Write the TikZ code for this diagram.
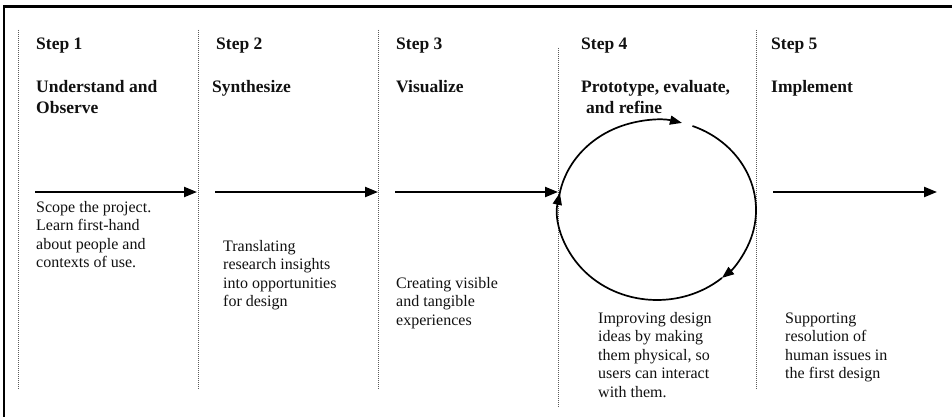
\documentclass[tikz,border=0pt]{standalone}
\usepackage{fontspec}
\setmainfont{Liberation Serif}
\usetikzlibrary{arrows.meta}
\definecolor{txt}{HTML}{111111}
\definecolor{divgray}{HTML}{5A5A5A}
\tikzset{
  steplabel/.style={anchor=base west, inner sep=0, text=txt, font=\bfseries\fontsize{17.5}{21}\selectfont},
  titletext/.style={anchor=north west, inner sep=0, align=left, text=txt, font=\bfseries\fontsize{17.5}{21}\selectfont},
  bodytext/.style={anchor=north west, inner sep=0, align=left, text=txt, font=\fontsize{16}{18.5}\selectfont},
  divider/.style={draw=divgray, line width=1pt, dash pattern=on 1pt off 1pt},
  flowarrow/.style={draw=black, line width=2.2pt, -{Triangle[length=13pt,width=10pt]}},
  cyclearrow/.style={draw=black, line width=1.7pt, -{Triangle[length=12pt,width=9pt]}}
}
\begin{document}
\begin{tikzpicture}[x=1pt,y=-1pt]
\useasboundingbox (0,0) rectangle (952,417);
\fill[white] (0,0) rectangle (952,417);
% frame
\coordinate (fbl) at (4,417);
\coordinate (ftl) at (4,6.5);
\coordinate (ftr) at (952,6.5);
\draw[line width=2.6pt] (fbl) -- (ftl) -- (ftr);
% dividers
\coordinate (d1t) at (18,30);  \coordinate (d1b) at (18,390);
\coordinate (d2t) at (198,30); \coordinate (d2b) at (198,390);
\coordinate (d3t) at (378,30); \coordinate (d3b) at (378,390);
\coordinate (d4t) at (558,48); \coordinate (d4b) at (558,407);
\coordinate (d5t) at (756,30); \coordinate (d5b) at (756,390);
\draw[divider] (d1t) -- (d1b);
\draw[divider] (d2t) -- (d2b);
\draw[divider] (d3t) -- (d3b);
\draw[divider] (d4t) -- (d4b);
\draw[divider] (d5t) -- (d5b);
% step labels
\node[steplabel] (s1) at (36,50) {Step 1};
\node[steplabel] (s2) at (216,50) {Step 2};
\node[steplabel] (s3) at (396,50) {Step 3};
\node[steplabel] (s4) at (581,50) {Step 4};
\node[steplabel] (s5) at (771,50) {Step 5};
% titles
\node[titletext] (t1) at (36,77.3) {\strut Understand and\\Observe};
\node[titletext] (t2) at (212,77.3) {\strut Synthesize};
\node[titletext] (t3) at (396,77.3) {\strut Visualize};
\node[titletext] (t4) at (581,77.3) {\strut Prototype, evaluate,\\\hspace*{5pt}and refine};
\node[titletext] (t5) at (771,77.3) {\strut Implement};
% flow arrows
\coordinate (a1s) at (35,192);  \coordinate (a1e) at (197,192);
\coordinate (a2s) at (215,192); \coordinate (a2e) at (378,192);
\coordinate (a3s) at (395,192); \coordinate (a3e) at (558,192);
\coordinate (a5s) at (773,192); \coordinate (a5e) at (937,192);
\draw[flowarrow] (a1s) -- (a1e);
\draw[flowarrow] (a2s) -- (a2e);
\draw[flowarrow] (a3s) -- (a3e);
\draw[flowarrow] (a5s) -- (a5e);
% cycle
\coordinate (cc) at (657,210);
\draw[cyclearrow] (cc) ++(189:99 and 90) arc[start angle=189, end angle=284.6, x radius=99, y radius=90];
\draw[cyclearrow] (cc) ++(291:99 and 90) arc[start angle=291, end angle=409, x radius=99, y radius=90];
\draw[cyclearrow] (cc) ++(409:99 and 90) arc[start angle=409, end angle=551, x radius=99, y radius=90];
% body texts
\node[bodytext] (b1) at (36,199) {\strut Scope the project.\\Learn first-hand\\about people and\\contexts of use.};
\node[bodytext] (b2) at (223,238) {\strut Translating\\research insights\\into opportunities\\for design};
\node[bodytext] (b3) at (396,275) {\strut Creating visible\\and tangible\\experiences};
\node[bodytext] (b4) at (598,310) {\strut Improving design\\ideas by making\\them physical, so\\users can interact\\with them.};
\node[bodytext] (b5) at (785,310) {\strut Supporting\\resolution of\\human issues in\\the first design};
\end{tikzpicture}
\end{document}
